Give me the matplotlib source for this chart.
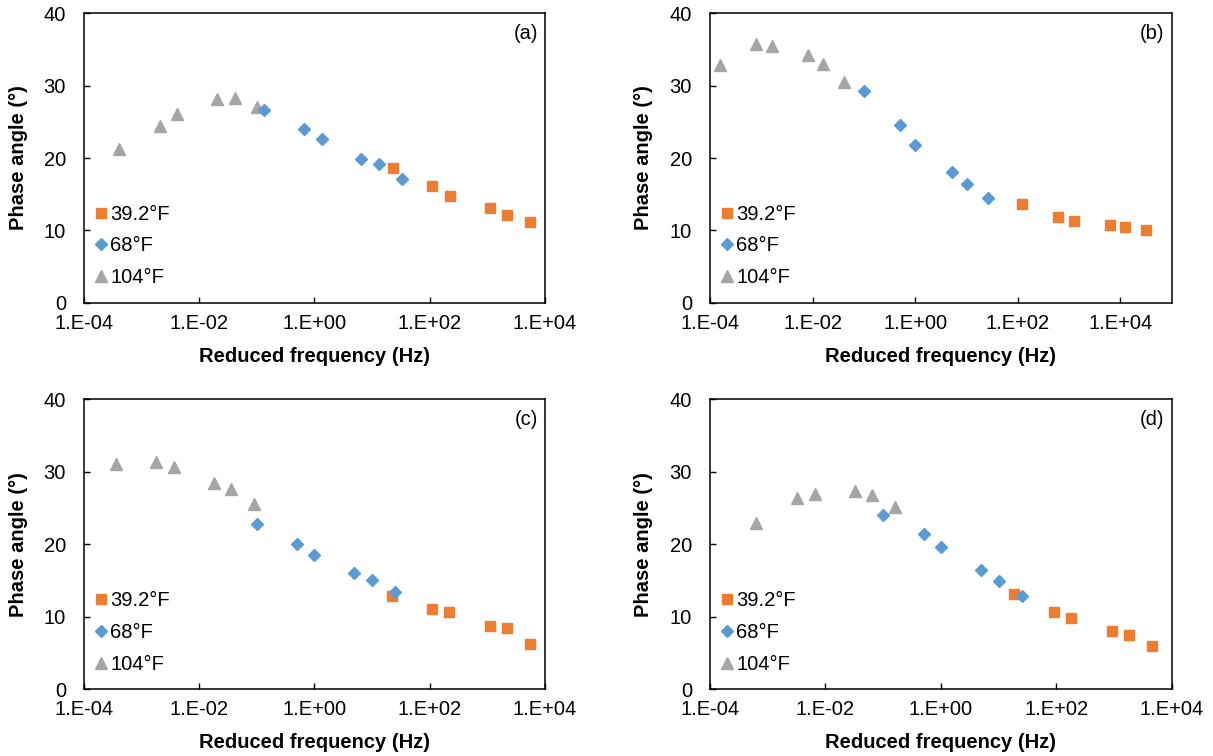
import numpy as np
import matplotlib
matplotlib.use('Agg')
import matplotlib.pyplot as plt

plt.rcParams['font.family'] = ['Liberation Sans', 'DejaVu Sans']

# reduced frequency (Hz) and phase angle (deg) for each panel / temperature
a_f_392 = [22.7, 112, 224, 1109, 2244, 5624]
a_p_392 = [18.6, 16.1, 14.8, 13.1, 12.1, 11.2]
a_f_68 = [0.135, 0.656, 1.33, 6.4, 13.1, 33.4]
a_p_68 = [26.6, 24.0, 22.6, 19.8, 19.2, 17.1]
a_f_104 = [4.05e-4, 2.06e-3, 4.16e-3, 0.0203, 0.0411, 0.102]
a_p_104 = [21.3, 24.4, 26.1, 28.1, 28.3, 27.0]

b_f_392 = [121.6, 605, 1242, 6280, 12330, 31770]
b_p_392 = [13.6, 11.9, 11.3, 10.8, 10.4, 10.0]
b_f_68 = [0.1007, 0.509, 1.015, 5.13, 10.07, 26.3]
b_p_68 = [29.2, 24.5, 21.8, 18.0, 16.4, 14.5]
b_f_104 = [1.59e-4, 8.05e-4, 1.65e-3, 8.22e-3, 0.0159, 0.0409]
b_p_104 = [32.8, 35.8, 35.5, 34.2, 33.0, 30.5]

c_f_392 = [21.8, 107.7, 215, 1109, 2158, 5484]
c_p_392 = [12.9, 11.1, 10.6, 8.8, 8.5, 6.3]
c_f_68 = [0.102, 0.497, 0.99, 4.91, 9.93, 25.2]
c_p_68 = [22.8, 20.0, 18.5, 16.1, 15.1, 13.4]
c_f_104 = [3.54e-4, 1.8e-3, 3.65e-3, 0.0178, 0.036, 0.089]
c_p_104 = [31.1, 31.3, 30.7, 28.5, 27.6, 25.6]

d_f_392 = [18.4, 91.4, 183, 940, 1832, 4590]
d_p_392 = [13.2, 10.7, 9.8, 8.1, 7.5, 6.0]
d_f_68 = [0.0995, 0.513, 1.02, 5.07, 10.3, 25.1]
d_p_68 = [24.1, 21.4, 19.6, 16.4, 15.0, 12.9]
d_f_104 = [6.37e-4, 3.24e-3, 6.56e-3, 0.0321, 0.0649, 0.163]
d_p_104 = [22.9, 26.4, 27.0, 27.4, 26.8, 25.2]

panels = [
    ('(a)', a_f_392, a_p_392, a_f_68, a_p_68, a_f_104, a_p_104, 1e4),
    ('(b)', b_f_392, b_p_392, b_f_68, b_p_68, b_f_104, b_p_104, 1e5),
    ('(c)', c_f_392, c_p_392, c_f_68, c_p_68, c_f_104, c_p_104, 1e4),
    ('(d)', d_f_392, d_p_392, d_f_68, d_p_68, d_f_104, d_p_104, 1e4),
]

xticks = [1e-4, 1e-2, 1e0, 1e2, 1e4]
xticklabels = ['1.E-04', '1.E-02', '1.E+00', '1.E+02', '1.E+04']
yticks = [0, 10, 20, 30, 40]

orange = '#ED7D31'
blue = '#5B9BD5'
gray = '#A5A5A5'

fig = plt.figure(figsize=(12.13, 7.56), dpi=100)
positions = [
    [0.0692, 0.5996, 0.3800, 0.3828],
    [0.5853, 0.5996, 0.3806, 0.3828],
    [0.0692, 0.0882, 0.3800, 0.3836],
    [0.5853, 0.0882, 0.3806, 0.3836],
]

fs = 14.5

for pos, (tag, f1, p1, f2, p2, f3, p3, xmax) in zip(positions, panels):
    ax = fig.add_axes(pos)
    h1, = ax.plot(f1, p1, 's', color=orange, markersize=6.5, ls='none')
    h3, = ax.plot(f3, p3, '^', color=gray, markersize=9, ls='none')
    h2, = ax.plot(f2, p2, 'D', color=blue, markersize=6.2, ls='none')

    ax.set_xscale('log')
    ax.set_xlim(1e-4, xmax)
    ax.set_ylim(0, 40)
    ax.set_xticks(xticks)
    ax.set_xticklabels(xticklabels)
    ax.xaxis.set_minor_locator(matplotlib.ticker.NullLocator())
    ax.set_yticks(yticks)
    ax.tick_params(axis='both', direction='in', length=4, width=1, labelsize=fs, colors='black')
    ax.tick_params(axis='x', pad=8)
    ax.tick_params(axis='y', pad=13)
    for sp in ax.spines.values():
        sp.set_linewidth(1.1)
        sp.set_color('black')

    ax.set_xlabel('Reduced frequency (Hz)', fontsize=fs, fontweight='bold', va='center')
    ax.xaxis.set_label_coords(0.5, -0.185)
    ax.set_ylabel('Phase angle (°)', fontsize=fs, fontweight='bold', va='center')
    ax.yaxis.set_label_coords(-0.143, 0.5)

    ax.text(0.985, 0.93, tag, transform=ax.transAxes, ha='right', va='center', fontsize=fs)

    ax.legend([h1, h2, h3], ['39.2°F', '68°F', '104°F'], loc='center left',
              bbox_to_anchor=(0.0, 0.196), frameon=False, fontsize=fs,
              handlelength=0.6, handletextpad=0.15, labelspacing=0.63,
              borderpad=0, borderaxespad=0.55)

fig.savefig('out.png', dpi=100)
